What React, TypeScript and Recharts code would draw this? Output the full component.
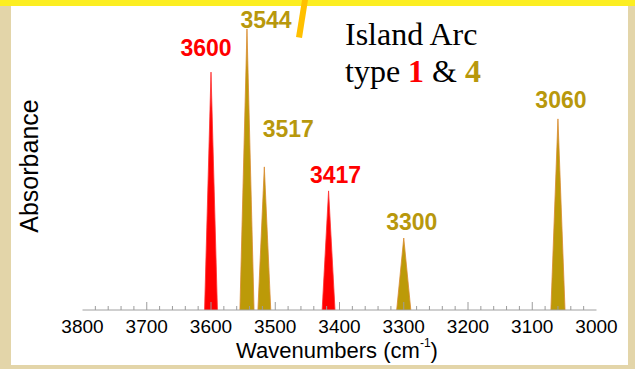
import { Area, ComposedChart, Scatter, XAxis, YAxis } from "recharts";

// band positions (cm-1), peak absorbance, half width at base, basalt type
const peakCenters = [3600, 3544, 3517, 3417, 3300, 3060];
const peakHeights = [0.793, 0.937, 0.477, 0.397, 0.24, 0.637];
const peakHalfWidths = [10, 11, 10, 10, 11, 11];
const peakTypes = [1, 4, 4, 1, 4, 4];

const majorTicks = [3800, 3700, 3600, 3500, 3400, 3300, 3200, 3100, 3000];
const minorStep = 20;

const TYPE_COLORS: Record<number, string> = { 1: "#ff0000", 4: "#bc9a08" };
const TYPE_STROKES: Record<number, string> = { 1: "#ff3030", 4: "#d98a30" };
const LABEL_COLORS: Record<number, string> = { 1: "#ff0000", 4: "#b8980c" };

// label offsets from the peak tip, px
const LABEL_NUDGE: Record<number, [number, number]> = {
  3600: [-5, -16],
  3544: [19, -1],
  3517: [24, -30],
  3417: [7, -8],
  3300: [8, -8],
  3060: [3, -11],
};

const SANS = "'Liberation Sans', Arial, Helvetica, sans-serif";
const SERIF = "'Liberation Serif', 'Times New Roman', serif";

const allTicks: number[] = [];
for (let v = 3000; v <= 3800; v += minorStep) allTicks.push(v);

const peaks = peakCenters.map((c, i) => ({
  center: c,
  type: peakTypes[i],
  points: [
    { x: c + peakHalfWidths[i], y: 0 },
    { x: c, y: peakHeights[i] },
    { x: c - peakHalfWidths[i], y: 0 },
  ],
}));

const tips = peakCenters.map((c, i) => ({ x: c, y: peakHeights[i], type: peakTypes[i] }));

const WaveTick = (props: any) => {
  const { x, y, payload } = props;
  const v = payload.value;
  const major = majorTicks.includes(v);
  const edge = v === 3000 || v === 3800;
  return (
    <g>
      {!edge && (
        <line x1={x} x2={x} y1={y} y2={y - (major ? 8 : 4)} stroke="#9c9c9c" strokeWidth={1} />
      )}
      {major && (
        <text x={x} y={y + 23} textAnchor="middle" fontFamily={SANS} fontSize={19} fill="#000">
          {v}
        </text>
      )}
    </g>
  );
};

const TipLabel = (props: any) => {
  const { cx, cy, payload } = props;
  const [dx, dy] = LABEL_NUDGE[payload.x] || [0, -8];
  return (
    <text
      x={cx + dx}
      y={cy + dy}
      textAnchor="middle"
      fontFamily={SANS}
      fontWeight="bold"
      fontSize={23}
      fill={LABEL_COLORS[payload.type]}
    >
      {payload.x}
    </text>
  );
};

export default function App() {
  return (
    <div style={{ position: "absolute", left: 0, top: 0, width: 635, height: 369, background: "#e3d5a9" }}>
      <svg width={635} height={369} style={{ position: "absolute", left: 0, top: 0 }}>
        <rect x={0} y={0} width={635} height={6} fill="#fcee21" />
        <rect x={11} y={6} width={617} height={359} fill="#ffffff" />
        <polygon points="302,0 308,0 302,38 296,37" fill="#ffc000" />
        <text x={345} y={45} fontFamily={SERIF} fontSize={32} fill="#000">
          Island Arc
        </text>
        <text x={345} y={82} fontFamily={SERIF} fontSize={32} fill="#000">
          type{" "}
          <tspan fill="#ff0000" fontWeight="bold">1</tspan>
          {" & "}
          <tspan fill="#b8980c" fontWeight="bold">4</tspan>
        </text>
        <text
          x={38}
          y={166}
          transform="rotate(-90, 38, 166)"
          textAnchor="middle"
          fontFamily={SANS}
          fontSize={25}
          fill="#000"
        >
          Absorbance
        </text>
        <text x={337} y={358} textAnchor="middle" fontFamily={SANS} fontSize={22} fill="#000">
          Wavenumbers (cm
          <tspan fontSize={12} dy={-11}>-1</tspan>
          <tspan dy={11}>)</tspan>
        </text>
      </svg>
      <div style={{ position: "absolute", left: 0, top: 0 }}>
        <ComposedChart width={635} height={369} margin={{ top: 10, right: 38.5, bottom: 29, left: 82.5 }}>
          <XAxis
            type="number"
            dataKey="x"
            domain={[3000, 3800]}
            reversed
            ticks={allTicks}
            interval={0}
            tickSize={0}
            tickMargin={0}
            tickLine={false}
            axisLine={{ stroke: "#a0a0a0" }}
            tick={<WaveTick />}
            height={30}
            allowDataOverflow
          />
          <YAxis type="number" domain={[0, 1]} hide />
          {peaks.map((p) => (
            <Area
              key={p.center}
              data={p.points}
              dataKey="y"
              type="linear"
              fill={TYPE_COLORS[p.type]}
              fillOpacity={1}
              stroke={TYPE_STROKES[p.type]}
              strokeWidth={0.8}
              isAnimationActive={false}
              dot={false}
              activeDot={false}
            />
          ))}
          <Scatter data={tips} dataKey="y" shape={<TipLabel />} isAnimationActive={false} />
        </ComposedChart>
      </div>
    </div>
  );
}
